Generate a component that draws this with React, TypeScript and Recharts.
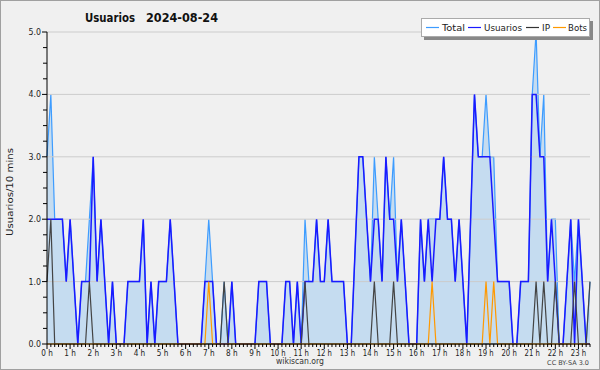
import React from "react";
import {
  ComposedChart,
  Area,
  Line,
  XAxis,
  YAxis,
  ReferenceLine,
} from "recharts";

// one value per 10 minutes, 0:00 -> 23:30 (the plot is clipped there)
const usuarios = [
  2, 2, 2, 2, 2, 1, 2, 1, 0, 1, 1, 1,
  3, 1, 2, 1, 0, 1, 0, 0, 0, 1, 1, 1,
  1, 2, 0, 1, 0, 1, 1, 1, 2, 1, 0, 0,
  0, 0, 0, 0, 0, 1, 1, 1, 0, 0, 0, 0,
  1, 0, 0, 0, 0, 0, 0, 1, 1, 1, 0, 0,
  0, 0, 1, 1, 0, 1, 0, 1, 1, 1, 2, 1,
  1, 2, 1, 1, 1, 1, 0, 0, 1.5, 3, 3, 2,
  1, 2, 2, 1, 3, 2, 2, 1, 2, 1, 0, 0,
  0, 2, 1, 2, 1, 2, 2, 3, 2, 2, 1, 2,
  1, 0, 2, 4, 3, 3, 3, 3, 2, 1, 1, 1,
  1, 0, 0, 1, 1, 1, 4, 4, 3, 3, 1, 2,
  1, 0, 0, 1, 2, 0, 2, 1, 0, 0,
];

const ip = [
  1, 2, 0, 0, 0, 0, 0, 0, 0, 0, 0, 1,
  0, 0, 0, 0, 0, 0, 0, 0, 0, 0, 0, 0,
  0, 0, 0, 0, 0, 0, 0, 0, 0, 0, 0, 0,
  0, 0, 0, 0, 0, 0, 0, 0, 0, 0, 1, 0,
  0, 0, 0, 0, 0, 0, 0, 0, 0, 0, 0, 0,
  0, 0, 0, 0, 0, 0, 0, 1, 0, 0, 0, 0,
  0, 0, 0, 0, 0, 0, 0, 0, 0, 0, 0, 0,
  0, 1, 0, 0, 0, 0, 1, 0, 0, 0, 0, 0,
  0, 0, 0, 0, 0, 0, 0, 0, 0, 0, 0, 0,
  0, 0, 0, 0, 0, 0, 0, 0, 0, 0, 0, 0,
  0, 0, 0, 0, 0, 0, 0, 1, 0, 1, 0, 0,
  1, 0, 0, 0, 0, 1, 0, 0, 0, 1,
];

const bots = [
  0, 0, 0, 0, 0, 0, 0, 0, 0, 0, 0, 0,
  0, 0, 0, 0, 0, 0, 0, 0, 0, 0, 0, 0,
  0, 0, 0, 0, 0, 0, 0, 0, 0, 0, 0, 0,
  0, 0, 0, 0, 0, 0, 1, 0, 0, 0, 0, 0,
  0, 0, 0, 0, 0, 0, 0, 0, 0, 0, 0, 0,
  0, 0, 0, 0, 0, 0, 0, 0, 0, 0, 0, 0,
  0, 0, 0, 0, 0, 0, 0, 0, 0, 0, 0, 0,
  0, 0, 0, 0, 0, 0, 0, 0, 0, 0, 0, 0,
  0, 0, 0, 0, 1, 0, 0, 0, 0, 0, 0, 0,
  0, 0, 0, 0, 0, 0, 1, 0, 1, 0, 0, 0,
  0, 0, 0, 0, 0, 0, 0, 0, 0, 0, 0, 0,
  0, 0, 0, 0, 0, 0, 0, 0, 0, 0,
];

const total = [
  3, 4, 2, 2, 2, 1, 2, 1, 0, 1, 1, 2,
  3, 1, 2, 1, 0, 1, 0, 0, 0, 1, 1, 1,
  1, 2, 0, 1, 0, 1, 1, 1, 2, 1, 0, 0,
  0, 0, 0, 0, 0, 1, 2, 1, 0, 0, 1, 0,
  1, 0, 0, 0, 0, 0, 0, 1, 1, 1, 0, 0,
  0, 0, 1, 1, 0, 1, 0, 2, 1, 1, 2, 1,
  1, 2, 1, 1, 1, 1, 0, 0, 1.5, 3, 3, 2,
  1, 3, 2, 1, 3, 2, 3, 1, 2, 1, 0, 0,
  0, 2, 1, 2, 2, 2, 2, 3, 2, 2, 1, 2,
  1, 0, 2, 4, 3, 3, 4, 3, 3, 1, 1, 1,
  1, 0, 0, 1, 1, 1, 4, 5, 3, 4, 1, 2,
  2, 0, 0, 1, 2, 1, 2, 1, 0, 1,
];

const gridLevels = [1, 2, 3, 4, 5];
const yMinorStep = 0.25;
const slotsPerHour = 6;

const data = total.map((t, i) => ({
  slot: i,
  total: t,
  usuarios: usuarios[i],
  ip: ip[i],
  bots: bots[i],
}));

const xTicks = data.map((d) => d.slot);
const yTicks = Array.from({ length: 5 / yMinorStep + 1 }, (_, i) => i * yMinorStep);

const FONT = "DejaVu Sans";

const XTick = (props: any) => {
  const { x, y, payload } = props;
  const v = payload.value;
  const major = v % slotsPerHour === 0;
  const label = `${v / slotsPerHour} h`;
  return (
    <g>
      <line x1={x} x2={x} y1={y} y2={y + (major ? 5 : 3)} stroke="#000" />
      {major && (
        <text
          x={x}
          y={y + 11.5}
          textAnchor="middle"
          fontSize={8.5}
          fontFamily={FONT}
          fill="#222"
          textLength={label.length * 3.7 + 0.5}
          lengthAdjust="spacingAndGlyphs"
        >
          {label}
        </text>
      )}
    </g>
  );
};

const YTick = (props: any) => {
  const { x, y, payload } = props;
  const v = payload.value;
  const major = Number.isInteger(v);
  return (
    <g>
      <line x1={x - (major ? 5 : 4)} x2={x} y1={y} y2={y} stroke="#000" />
      {major && (
        <text
          x={x - 6}
          y={y + 3}
          textAnchor="end"
          fontSize={8.5}
          fontFamily={FONT}
          fill="#222"
          textLength={12.5}
          lengthAdjust="spacingAndGlyphs"
        >
          {v.toFixed(1)}
        </text>
      )}
    </g>
  );
};

const legendItems = [
  { label: "Total", color: "#3d9cff", x: 426, tx: 442, w: 23 },
  { label: "Usuarios", color: "#1a1aff", x: 468, tx: 484, w: 38 },
  { label: "IP", color: "#333333", x: 526, tx: 542, w: 8 },
  { label: "Bots", color: "#ff9900", x: 553, tx: 568, w: 19 },
];

export default function App() {
  return (
    <div
      style={{
        position: "absolute",
        left: 0,
        top: 0,
        width: 600,
        height: 370,
        background: "#f0f0f0",
      }}
    >
      <ComposedChart
        width={600}
        height={370}
        data={data}
        margin={{ top: 32, right: 10, bottom: 12, left: 0 }}
      >
        {gridLevels.map((g) => (
          <ReferenceLine key={g} y={g} stroke="#cccccc" strokeWidth={1} />
        ))}
        <XAxis
          dataKey="slot"
          type="number"
          domain={[0, 141]}
          ticks={xTicks}
          interval={0}
          tickSize={0}
          tickMargin={0}
          tickLine={false}
          tick={<XTick />}
          height={14}
          axisLine={{ stroke: "#000" }}
        />
        <YAxis
          type="number"
          domain={[0, 5]}
          ticks={yTicks}
          interval={0}
          tickSize={0}
          tickMargin={0}
          tickLine={false}
          tick={<YTick />}
          width={47}
          axisLine={{ stroke: "#000" }}
        />
        <Area
          type="linear"
          dataKey="total"
          stroke="#3d9cff"
          strokeWidth={1.2}
          fill="#c5dcf0"
          fillOpacity={1}
          dot={false}
          activeDot={false}
          isAnimationActive={false}
        />
        <Line
          type="linear"
          dataKey="usuarios"
          stroke="#1a1aff"
          strokeWidth={1.5}
          dot={false}
          activeDot={false}
          isAnimationActive={false}
        />
        <Line
          type="linear"
          dataKey="ip"
          stroke="#444444"
          strokeWidth={1.2}
          dot={false}
          activeDot={false}
          isAnimationActive={false}
        />
        <Line
          type="linear"
          dataKey="bots"
          stroke="#ff9900"
          strokeWidth={1.2}
          dot={false}
          activeDot={false}
          isAnimationActive={false}
        />
      </ComposedChart>

      <svg
        width={600}
        height={370}
        style={{ position: "absolute", left: 0, top: 0, pointerEvents: "none" }}
      >
        <rect x={0.5} y={0.5} width={599} height={369} fill="none" stroke="#a0a0a0" />
        <text x={85} y={22} fontSize={13} fontWeight="bold" fontFamily={FONT} fill="#111" textLength={50} lengthAdjust="spacingAndGlyphs">
          Usuarios
        </text>
        <text x={146} y={22} fontSize={13} fontWeight="bold" fontFamily={FONT} fill="#111" textLength={72} lengthAdjust="spacingAndGlyphs">
          2024-08-24
        </text>
        <text
          x={13}
          y={192}
          fontSize={9.5}
          fontFamily={FONT}
          fill="#222"
          textAnchor="middle"
          transform="rotate(-90 13 192)"
          textLength={88}
          lengthAdjust="spacingAndGlyphs"
        >
          Usuarios/10 mins
        </text>

        <rect x={424} y={21} width={169} height={19} fill="#888" />
        <rect x={421.5} y={18.5} width={168} height={18} fill="#ffffff" stroke="#aaaaaa" />
        {legendItems.map((it) => (
          <g key={it.label}>
            <line x1={it.x} x2={it.x + 13} y1={27.5} y2={27.5} stroke={it.color} strokeWidth={1.2} />
            <text
              x={it.tx}
              y={31}
              fontSize={9.5}
              fontFamily={FONT}
              fill="#222"
              textLength={it.w}
              lengthAdjust="spacingAndGlyphs"
            >
              {it.label}
            </text>
          </g>
        ))}

        <text x={300} y={364} fontSize={9} fontFamily={FONT} fill="#333" textAnchor="middle" textLength={48} lengthAdjust="spacingAndGlyphs">
          wikiscan.org
        </text>
        <text x={589} y={365} fontSize={6.5} fontFamily={FONT} fill="#444" textAnchor="end">
          CC BY-SA 3.0
        </text>
      </svg>
    </div>
  );
}
